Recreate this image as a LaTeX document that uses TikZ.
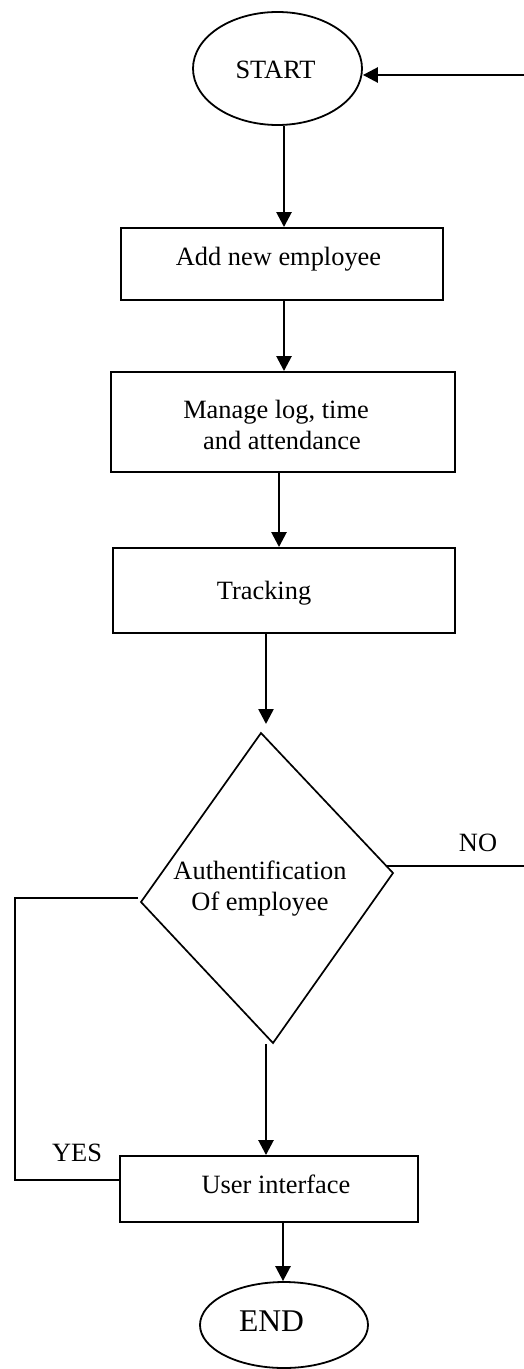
\documentclass[tikz,border=0pt]{standalone}
\usepackage{fontspec}
\setmainfont{Liberation Serif}
\usetikzlibrary{arrows.meta,shapes.geometric}
\begin{document}
\begin{tikzpicture}[x=0.5pt,y=-0.5pt,
  box/.style={draw, line width=0.95pt, inner sep=0pt},
  term/.style={draw, ellipse, line width=0.9pt, inner sep=0pt},
  txt/.style={font=\fontsize{13.2}{15.5}\selectfont, align=center, inner sep=0pt},
  bigtxt/.style={font=\fontsize{15.8}{18}\selectfont, inner sep=0pt},
  arr/.style={line width=1.3pt, -{Triangle[length=7.5pt,width=7.5pt]}},
  ln/.style={line width=0.85pt}]
\useasboundingbox (0,0) rectangle (524,1369);

% terminals and boxes
\node[term, minimum width=84.5pt, minimum height=56.5pt] (start) at (277.5,68.5) {};
\node[txt] (tstart) at (275.5,70) {START};

\node[box, minimum width=161pt, minimum height=36pt] (b1) at (282,264) {};
\node[txt] (t1) at (278.5,259) {Add new employee};

\node[box, minimum width=172pt, minimum height=50pt] (b2) at (283,422) {};
\node[txt] (t2) at (276,425) {Manage log, time\\\hspace*{0.45em}and attendance};

\node[box, minimum width=171pt, minimum height=42.5pt] (b3) at (284,590.5) {};
\node[txt] (t3) at (264,593) {Tracking};

\node[box, minimum width=149pt, minimum height=33pt] (ui) at (269,1189) {};
\node[txt] (t4) at (276,1184) {User interface};

\node[term, minimum width=84pt, minimum height=43pt] (end) at (284,1325) {};
\node[bigtxt] (tend) at (271.5,1321) {END};

% decision diamond
\coordinate (dT) at (261,733);
\coordinate (dR) at (393,873);
\coordinate (dB) at (273,1043);
\coordinate (dL) at (141,902);
\draw[ln] (dT) -- (dR) -- (dB) -- (dL) -- cycle;
\node[txt] (dtext) at (260,889) {Authentification\\Of employee};

% x positions of the vertical connectors
\coordinate (xa) at (284,0);
\coordinate (xb) at (279,0);
\coordinate (xc) at (266,0);
\coordinate (xd) at (283,0);
\coordinate (dIn) at (266,724);
\coordinate (dOut) at (266,1044);

\draw[arr] (start.south -| xa) -- (b1.north -| xa);
\draw[arr] (b1.south -| xa) -- (b2.north -| xa);
\draw[arr] (b2.south -| xb) -- (b3.north -| xb);
\draw[arr] (b3.south -| xc) -- (dIn);
\draw[arr] (dOut) -- (ui.north -| xc);
\draw[arr] (ui.south -| xd) -- (end.north -| xd);

% return arrow into START
\coordinate (rin) at (524,75);
\draw[arr] (rin) -- (start.east |- rin);

% NO branch
\coordinate (noA) at (387,866);
\coordinate (noB) at (524,866);
\draw[ln] (noA) -- (noB);
\node[txt] (no) at (478,843) {NO};

% YES branch
\coordinate (yA) at (138,898);
\coordinate (yB) at (15,898);
\coordinate (yC) at (15,1180);
\draw[ln] (yA) -- (yB) -- (yC) -- (ui.west |- yC);
\node[txt] (yes) at (77,1153) {YES};
\end{tikzpicture}
\end{document}
